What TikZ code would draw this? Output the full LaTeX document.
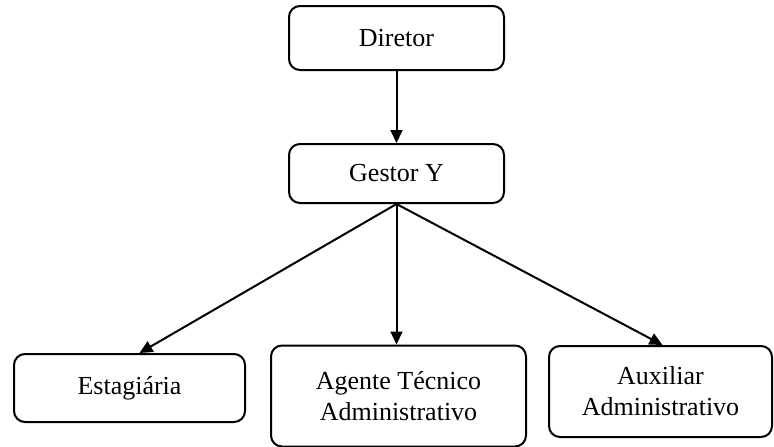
\documentclass[tikz,border=0pt]{standalone}
\usepackage{fontspec}
\setmainfont{Liberation Serif}
\usetikzlibrary{arrows.meta}
\begin{document}
\begin{tikzpicture}[x=1pt,y=-1pt,
  box/.style={draw, line width=2pt, rounded corners=11pt, inner sep=0pt, align=center,
    font=\fontsize{26}{31}\selectfont},
  link/.style={line width=2pt, -{Triangle[length=13pt,width=12pt]}}]
\useasboundingbox (0,0) rectangle (774,447);
\clip (0,0) rectangle (774,447);
\node[box, minimum width=215pt, minimum height=64pt] (d) at (396.5,38) {Diretor};
\node[box, minimum width=215pt, minimum height=59pt] (g) at (396.5,173.5) {Gestor Y};
\node[box, minimum width=231pt, minimum height=68pt] (e) at (129.5,388) {Estagiária};
\node[box, minimum width=255pt, minimum height=101pt] (a) at (398.5,396) {Agente Técnico\\Administrativo};
\node[box, minimum width=223pt, minimum height=91pt] (x) at (660.5,391.5) {Auxiliar\\Administrativo};
\coordinate (et) at ([xshift=10pt]e.north);
\draw[link] (d.south) -- (g.north);
\draw[link] (g.south) -- (et);
\draw[link] (g.south) -- (g.south |- a.north);
\draw[link] (g.south) -- ([xshift=2pt]x.north);
\end{tikzpicture}
\end{document}
